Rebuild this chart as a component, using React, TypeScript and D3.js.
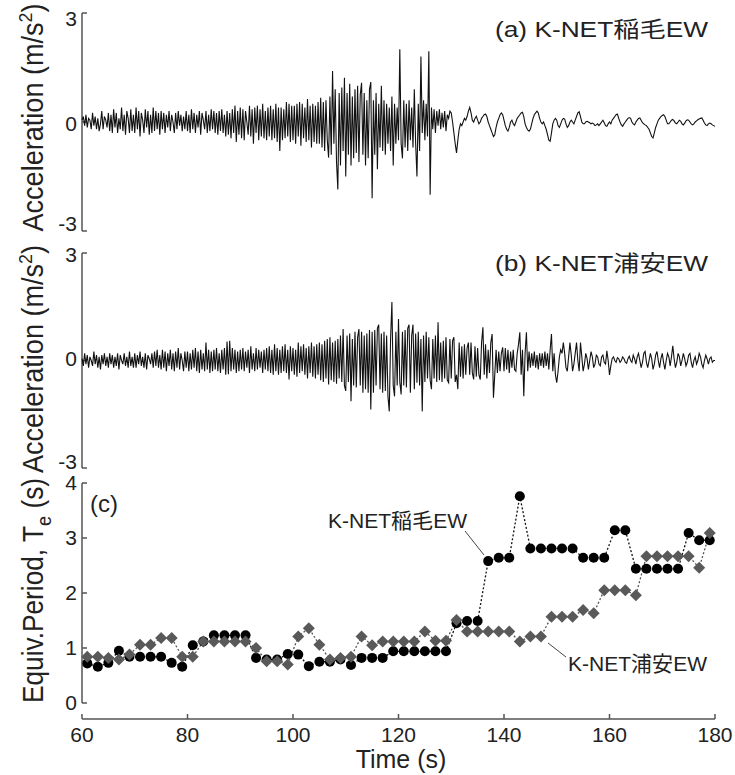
import React from "react";
import * as d3 from "d3";

// ---------- data ----------
// acceleration records, sampled every 0.25 s from 60 s
const recordStart = 60;
const recordStep = 0.25;

const inageAccel = [
  0.05, 0.15, -0.1, 0.2, -0.15, 0.1, 0.05, -0.2, 0.25, -0.1, 0.15, -0.2, 0.1, -0.25, -0.05, 0.3, -0.2, 0.15, 0.05, -0.15,
  0.25, -0.25, 0.2, -0.3, 0.35, -0.15, 0.25, -0.3, 0.1, -0.2, 0.4, -0.25, 0.2, -0.35, 0.3, 0.1, -0.3, 0.35, -0.25, 0.2,
  -0.3, 0.4, -0.2, 0.3, -0.4, 0.25, 0.05, -0.3, 0.35, -0.15, 0.3, -0.35, 0.2, -0.3, 0.4, -0.25, 0.3, -0.2, 0.25, -0.35,
  0.3, -0.2, 0.25, -0.3, 0.2, -0.15, 0.3, -0.25, 0.2, 0.0, -0.3, 0.25, -0.2, 0.3, -0.1, 0.2, -0.25, 0.15, -0.2, 0.3,
  -0.25, 0.2, -0.3, 0.35, -0.2, 0.25, -0.3, 0.2, -0.15, 0.3, -0.35, 0.25, 0.05, -0.2, 0.3, -0.3, 0.2, -0.25, 0.35, -0.2,
  0.3, -0.3, 0.25, -0.35, 0.3, -0.25, 0.35, -0.3, 0.2, -0.4, 0.3, -0.35, 0.25, -0.45, 0.35, -0.3, 0.45, -0.55, 0.3, -0.35,
  0.4, -0.45, 0.35, -0.5, 0.3, 0.0, -0.35, 0.45, -0.4, 0.35, -0.6, 0.4, -0.3, 0.45, -0.5, 0.35, -0.4, 0.5, -0.45, 0.3,
  -0.5, 0.4, -0.4, 0.45, -0.5, 0.35, -0.45, 0.5, -0.55, 0.4, -0.8, 0.4, -0.5, 0.35, -0.45, 0.55, -0.4, 0.5, -0.55, 0.45,
  -0.5, 0.45, -0.6, 0.5, -0.4, 0.55, -0.65, 0.5, -0.45, 0.4, -0.55, 0.63, -0.5, 0.45, -0.7, 0.5, -0.55, 0.45, -0.6, 0.55,
  -0.6, 0.67, -0.7, 0.55, -0.8, 0.6, -0.5, -0.98, 0.7, -0.9, 1.4, -0.6, 0.9, -1.1, -1.86, 0.8, -1.2, 0.95, -0.8, 1.22,
  -1.5, 0.8, -0.9, 1.05, -1.2, 0.7, -1.0, 0.9, -0.85, 1.0, -1.1, 0.75, 1.08, -0.9, 0.8, -1.2, 0.6, -1.0, 0.9, 1.1,
  -2.1, 0.6, -0.9, 0.8, -1.3, 0.5, -0.7, 1.0, -0.8, 0.6, -0.9, 0.5, -0.6, 0.4, -0.8, 0.7, -1.2, 0.5, -0.6, 0.4,
  -0.5, 2.0, -0.6, -1.0, 0.6, -0.7, 0.5, -0.8, 0.6, -0.5, 0.4, -0.7, 0.9, -0.6, -1.5, 0.5, -0.8, 1.8, -0.3, 0.6,
  -0.5, 0.5, -0.4, 1.95, -2.0, 0.4, -0.2, 0.35, -0.3, 0.3, -0.1, 0.35, -0.2, 0.25, -0.15, 0.3, -0.25, 0.2, 0.1, 0.3,
  0.25, 0.0, -0.3, -0.6, -0.85, -0.5, -0.2, -0.05, -0.1, 0.0, 0.1, 0.05, 0.15, 0.3, 0.4, 0.25, 0.05, 0.0, 0.1, 0.16,
  0.05, -0.05, 0.0, 0.1, 0.15, 0.2, 0.22, 0.15, 0.0, -0.1, -0.2, -0.3, -0.4, -0.35, -0.15, 0.0, 0.1, 0.2, 0.25, 0.2,
  0.05, -0.1, -0.2, -0.25, -0.15, 0.0, 0.05, -0.05, -0.1, 0.0, 0.1, 0.15, 0.2, 0.25, 0.27, 0.15, -0.05, -0.15, -0.22, -0.25,
  -0.2, -0.05, 0.1, 0.2, 0.25, 0.3, 0.25, 0.1, 0.0, -0.05, 0.0, -0.1, -0.2, -0.35, -0.5, -0.53, -0.3, -0.05, 0.05, 0.1,
  0.05, -0.1, -0.15, -0.05, 0.05, 0.1, 0.08, -0.05, -0.15, -0.1, 0.0, 0.05, 0.0, -0.05, 0.05, 0.15, 0.25, 0.28, 0.15, 0.0,
  -0.05, -0.05, 0.0, 0.02, 0.0, -0.02, -0.05, -0.03, -0.05, -0.1, -0.08, -0.05, -0.1, -0.05, 0.0, 0.05, -0.02, -0.1, -0.12, -0.05,
  0.0, -0.05, 0.05, 0.1, 0.15, 0.2, 0.22, 0.1, 0.0, -0.08, -0.12, -0.05, 0.0, 0.05, 0.1, 0.12, 0.1, 0.0, -0.05, -0.08,
  0.0, 0.05, 0.1, 0.11, 0.05, -0.02, -0.05, -0.08, -0.1, -0.15, -0.2, -0.3, -0.4, -0.44, -0.3, -0.15, -0.05, 0.05, 0.1, 0.15,
  0.18, 0.2, 0.15, 0.05, -0.05, -0.05, 0.0, 0.05, 0.07, 0.03, -0.03, -0.05, 0.0, 0.05, 0.02, -0.05, -0.08, -0.03, 0.03, 0.06,
  0.05, 0.0, -0.05, -0.08, -0.05, 0.0, 0.03, 0.06, 0.08, 0.1, 0.11, 0.05, -0.03, -0.08, -0.1, -0.05, -0.03, -0.05, -0.08, -0.1,
  -0.12,
];

const urayasuAccel = [
  0.05, -0.15, 0.2, -0.1, 0.15, -0.2, 0.1, 0.0, -0.15, 0.25, -0.1, 0.15, -0.2, 0.1, -0.25, 0.15, -0.1, 0.2, -0.15, 0.1,
  -0.2, 0.2, -0.1, 0.15, -0.2, 0.1, -0.15, 0.2, -0.25, 0.15, 0.0, -0.1, 0.2, -0.15, 0.1, -0.2, 0.25, -0.15, 0.1, -0.2,
  0.2, -0.2, 0.15, -0.1, 0.25, -0.15, 0.1, -0.2, 0.2, -0.25, 0.15, 0.05, -0.1, 0.2, -0.2, 0.25, -0.15, 0.3, -0.2, 0.15,
  -0.25, 0.3, -0.2, 0.25, -0.3, 0.2, -0.15, 0.3, -0.25, 0.2, -0.3, 0.25, -0.2, 0.35, -0.25, 0.2, 0.0, -0.3, 0.25, -0.2,
  0.25, -0.3, 0.2, -0.25, 0.3, -0.2, 0.35, -0.3, 0.25, -0.35, 0.3, -0.25, 0.2, -0.3, 0.5, -0.25, 0.3, -0.35, 0.25, -0.3,
  0.3, -0.25, 0.35, -0.3, 0.2, -0.35, 0.3, -0.25, 0.35, -0.4, 0.53, -0.38, 0.55, -0.3, 0.35, -0.25, 0.3, -0.35, 0.25, -0.3,
  0.3, -0.25, 0.35, -0.3, 0.25, -0.2, 0.3, -0.35, 0.4, -0.25, 0.2, -0.3, 0.35, -0.25, 0.3, -0.2, 0.25, -0.35, 0.3, -0.25,
  0.35, -0.3, 0.4, -0.35, 0.3, -0.4, 0.45, -0.3, 0.35, -0.4, 0.3, -0.35, 0.4, -0.3, 0.45, -0.35, 0.3, -0.53, 0.4, -0.3,
  0.35, -0.4, 0.3, -0.45, 0.5, -0.35, 0.4, -0.3, 0.45, -0.4, 0.35, -0.5, 0.4, -0.35, 0.5, -0.45, 0.4, -0.5, 0.45, -0.4,
  0.5, -0.55, 0.45, -0.6, 0.55, -0.5, 0.6, -0.67, 0.65, -0.55, 0.5, -0.6, 0.55, -0.65, 0.6, -0.5, 0.7, -0.6, 0.88, -0.7,
  -0.85, 0.7, -0.6, 0.75, -1.14, 0.6, -0.7, 0.8, -0.75, 0.65, 0.88, -0.7, 0.8, -0.9, 0.7, -0.8, 0.75, -0.9, 0.85, -1.37,
  0.8, -0.9, 0.85, -0.7, 0.9, 1.0, -0.8, 0.75, -0.9, 0.8, -0.85, 0.7, -1.0, -1.42, 0.6, 1.63, -0.7, -1.0, 0.8, -0.7,
  1.16, -0.6, -0.95, 0.8, -0.7, 0.85, -0.75, 0.9, 1.0, -0.9, 0.7, 1.0, -0.8, 0.75, -0.62, 0.8, -0.7, 0.6, -1.42, 0.7,
  -0.6, 0.8, -0.5, 0.65, -0.55, -0.8, 0.6, -0.5, 0.7, -0.6, 1.07, -0.55, 0.5, -0.6, 0.55, -0.5, 0.65, -0.55, -0.62, 0.6,
  -0.5, 0.55, 0.65, -0.6, -0.4, -0.8, 0.5, -0.45, 0.4, -0.5, 0.45, -0.4, 0.35, 0.5, -0.4, 0.5, -0.35, -0.53, 0.4, -0.45,
  0.35, -0.4, -0.53, 0.5, 0.93, -0.4, 0.45, -0.5, 0.3, -0.35, 0.5, 0.74, -1.04, -0.4, 0.3, -0.35, 0.25, -0.3, 0.2, 0.37,
  -0.3, 0.35, -0.25, 0.3, -0.35, 0.25, -0.2, 0.3, -0.25, -0.3, 0.2, 0.45, 0.79, -0.4, 0.3, -1.0, 0.2, 0.79, -0.3, 0.25,
  -0.2, 0.2, -0.15, 0.25, -0.2, 0.15, -0.25, 0.2, -0.15, 0.2, -0.2, 0.25, -0.15, 0.2, -0.25, 0.3, 0.74, -0.3, 0.2, -0.4,
  -0.62, -0.3, 0.1, 0.3, 0.2, 0.5, 0.2, -0.2, -0.3, 0.1, 0.5, 0.15, -0.3, -0.1, 0.2, 0.5, 0.0, -0.3, 0.5, 0.1,
  -0.3, -0.1, 0.2, 0.05, -0.25, 0.0, 0.25, 0.1, -0.2, -0.1, 0.15, 0.1, -0.1, -0.15, 0.1, 0.15, -0.05, -0.1, 0.27, 0.0,
  -0.4, -0.15, 0.05, 0.1, 0.0, -0.05, 0.08, 0.05, -0.05, 0.0, 0.1, 0.05, -0.05, -0.08, 0.05, 0.12, 0.0, -0.05, 0.15, 0.05,
  -0.1, 0.1, 0.2, 0.0, -0.2, -0.05, 0.2, 0.25, -0.05, -0.2, 0.0, 0.2, 0.05, -0.25, -0.1, 0.15, 0.25, 0.0, -0.2, 0.05,
  0.2, -0.05, -0.25, 0.0, 0.2, 0.1, -0.15, 0.1, 0.41, 0.05, -0.2, -0.05, 0.2, 0.1, -0.15, 0.0, 0.2, 0.05, -0.15, -0.05,
  0.15, 0.2, -0.05, -0.2, 0.0, 0.1, -0.1, 0.0, 0.2, 0.1, -0.1, -0.2, 0.0, 0.15, 0.05, -0.1, 0.05, 0.1, -0.05, 0.0,
  0.0,
];

// equivalent period (window centres)
const periodTimes = [
  61, 63, 65, 67, 69, 71, 73, 75, 77, 79, 81, 83, 85, 87, 89, 91, 93, 95, 97, 99,
  101, 103, 105, 107, 109, 111, 113, 115, 117, 119, 121, 123, 125, 127, 129, 131, 133, 135, 137, 139,
  141, 143, 145, 147, 149, 151, 153, 155, 157, 159, 161, 163, 165, 167, 169, 171, 173, 175, 177, 179,
];
const inagePeriod = [
  0.72, 0.66, 0.73, 0.95, 0.84, 0.84, 0.84, 0.84, 0.73, 0.66, 1.05, 1.12, 1.23, 1.23, 1.23, 1.23, 0.82, 0.79, 0.79, 0.89,
  0.88, 0.67, 0.75, 0.75, 0.79, 0.69, 0.82, 0.82, 0.82, 0.94, 0.94, 0.94, 0.94, 0.94, 0.94, 1.45, 1.49, 1.49, 2.58, 2.64,
  2.64, 3.76, 2.81, 2.81, 2.81, 2.81, 2.81, 2.64, 2.64, 2.64, 3.14, 3.14, 2.44, 2.44, 2.44, 2.44, 2.44, 3.09, 2.96, 2.96,
];
const urayasuPeriod = [
  0.84, 0.84, 0.82, 0.79, 0.88, 1.06, 1.06, 1.18, 1.18, 0.84, 0.84, 1.12, 1.12, 1.12, 1.12, 1.12, 1.0, 0.76, 0.76, 0.7,
  1.21, 1.36, 1.06, 0.79, 0.82, 0.84, 1.21, 1.05, 1.12, 1.12, 1.12, 1.12, 1.3, 1.13, 1.13, 1.51, 1.3, 1.3, 1.3, 1.3,
  1.3, 1.12, 1.21, 1.21, 1.57, 1.57, 1.57, 1.69, 1.63, 2.05, 2.05, 2.05, 1.96, 2.67, 2.67, 2.67, 2.67, 2.67, 2.46, 3.09,
];

const accelTicks = [-3, 0, 3];
const periodTicks = [0, 1, 2, 3, 4];
const timeTicks = [60, 80, 100, 120, 140, 160, 180];

const titleA = "(a) K-NET稲毛EW";
const titleB = "(b) K-NET浦安EW";
const labelInage = "K-NET稲毛EW";
const labelUrayasu = "K-NET浦安EW";

// ---------- layout ----------
const W = 735;
const H = 775;
const FONT = "'Liberation Sans', Arial, 'Noto Sans CJK JP', sans-serif";
const AXIS = "#555";
const TEXT = "#222";

const x = d3.scaleLinear().domain([60, 180]).range([82, 715]);
const yA = d3.scaleLinear().domain([-3, 3]).range([231, 13]);
const yB = d3.scaleLinear().domain([-3, 3]).range([468, 253]);
const yC = d3.scaleLinear().domain([0, 4]).range([703, 483]);

function wavePath(values: number[], y: d3.ScaleLinear<number, number>) {
  const line = d3
    .line<number>()
    .x((_, i) => x(recordStart + i * recordStep))
    .y((d) => y(d));
  return line(values) || "";
}

function AccelAxis({ y, shifts }: { y: d3.ScaleLinear<number, number>; shifts: number[] }) {
  const [lo, hi] = y.domain();
  return (
    <g>
      <line x1={82} x2={82} y1={y(hi)} y2={y(lo)} stroke={AXIS} strokeWidth={1.5} />
      {accelTicks.map((t, i) => (
        <g key={t}>
          <line x1={82} x2={87} y1={y(t)} y2={y(t)} stroke={AXIS} strokeWidth={1.5} />
          <text
            x={77}
            y={y(t) + shifts[i]}
            dy="0.35em"
            textAnchor="end"
            fontSize={21}
            fill={TEXT}
            fontFamily={FONT}
          >
            {t}
          </text>
        </g>
      ))}
    </g>
  );
}

function AccelLabel({ cy }: { cy: number }) {
  return (
    <text
      transform={`translate(43,${cy}) rotate(-90)`}
      textAnchor="middle"
      fontSize={29}
      fill={TEXT}
      fontFamily={FONT}
      textLength={228}
      lengthAdjust="spacingAndGlyphs"
    >
      Acceleration (m/s
      <tspan dy={-11} fontSize={19}>2</tspan>
      <tspan dy={11}>)</tspan>
    </text>
  );
}

function diamond(cx: number, cy: number, r: number) {
  return `M${cx},${cy - r}L${cx + r},${cy}L${cx},${cy + r}L${cx - r},${cy}Z`;
}

export default function App() {
  const periodLine = (vals: number[]) =>
    d3
      .line<number>()
      .x((_, i) => x(periodTimes[i]))
      .y((d) => yC(d))(vals) || "";

  return (
    <svg
      width={W}
      height={H}
      viewBox={`0 0 ${W} ${H}`}
      style={{ position: "absolute", left: 0, top: 0, background: "#fff" }}
    >
      <rect x={0} y={0} width={W} height={H} fill="#fff" />

      {/* panel (a) */}
      <AccelAxis y={yA} shifts={[-7, 2, 6]} />
      <path d={wavePath(inageAccel, yA)} fill="none" stroke="#111" strokeWidth={1.1} />
      <text x={495} y={37} fontSize={22} fill={TEXT} fontFamily={FONT} textLength={213} lengthAdjust="spacingAndGlyphs">
        {titleA}
      </text>
      <AccelLabel cy={117.5} />

      {/* panel (b) */}
      <AccelAxis y={yB} shifts={[-6, -2, 2]} />
      <path d={wavePath(urayasuAccel, yB)} fill="none" stroke="#111" strokeWidth={1.1} />
      <text x={495} y={271} fontSize={22} fill={TEXT} fontFamily={FONT} textLength={213} lengthAdjust="spacingAndGlyphs">
        {titleB}
      </text>
      <AccelLabel cy={359} />

      {/* panel (c) */}
      <line x1={82} x2={82} y1={yC(4)} y2={yC(0)} stroke={AXIS} strokeWidth={1.5} />
      {periodTicks.map((t) => (
        <g key={t}>
          <line x1={82} x2={87} y1={yC(t)} y2={yC(t)} stroke={AXIS} strokeWidth={1.5} />
          <text x={77} y={yC(t)} dy="0.35em" textAnchor="end" fontSize={21} fill={TEXT} fontFamily={FONT}>
            {t}
          </text>
        </g>
      ))}
      <line x1={x(60)} x2={x(180)} y1={719} y2={719} stroke={AXIS} strokeWidth={1.5} />
      {timeTicks.map((t) => (
        <g key={t}>
          <line x1={x(t)} x2={x(t)} y1={719} y2={714} stroke={AXIS} strokeWidth={1.5} />
          <text x={x(t)} y={742} textAnchor="middle" fontSize={21} fill={TEXT} fontFamily={FONT}>
            {t}
          </text>
        </g>
      ))}
      <text x={401} y={768} textAnchor="middle" fontSize={25} fill={TEXT} fontFamily={FONT}>
        Time (s)
      </text>
      <text
        transform={`translate(43,590.5) rotate(-90)`}
        textAnchor="middle"
        fontSize={29}
        fill={TEXT}
        fontFamily={FONT}
        textLength={225}
        lengthAdjust="spacingAndGlyphs"
      >
        Equiv.Period, T
        <tspan dy={8} fontSize={20}>e</tspan>
        <tspan dy={-8}> (s)</tspan>
      </text>
      <text x={90} y={512} fontSize={24} fill={TEXT} fontFamily={FONT}>
        (c)
      </text>

      <path d={periodLine(urayasuPeriod)} fill="none" stroke="#555" strokeWidth={1.3} strokeDasharray="2,2" />
      <path d={periodLine(inagePeriod)} fill="none" stroke="#111" strokeWidth={1.3} strokeDasharray="2,2" />
      {inagePeriod.map((v, i) => (
        <circle key={`i${i}`} cx={x(periodTimes[i])} cy={yC(v)} r={5} fill="#000" />
      ))}
      {urayasuPeriod.map((v, i) => (
        <path key={`u${i}`} d={diamond(x(periodTimes[i]), yC(v), 6)} fill="#595959" />
      ))}

      {/* annotations */}
      <text x={328} y={528} fontSize={21} fill={TEXT} fontFamily={FONT} textLength={139} lengthAdjust="spacingAndGlyphs">
        {labelInage}
      </text>
      <line x1={465} y1={531} x2={484} y2={555} stroke="#444" strokeWidth={1} />
      <text x={568} y={671} fontSize={21} fill={TEXT} fontFamily={FONT} textLength={139} lengthAdjust="spacingAndGlyphs">
        {labelUrayasu}
      </text>
      <line x1={548} y1={643} x2={566} y2={657} stroke="#444" strokeWidth={1} />
    </svg>
  );
}
